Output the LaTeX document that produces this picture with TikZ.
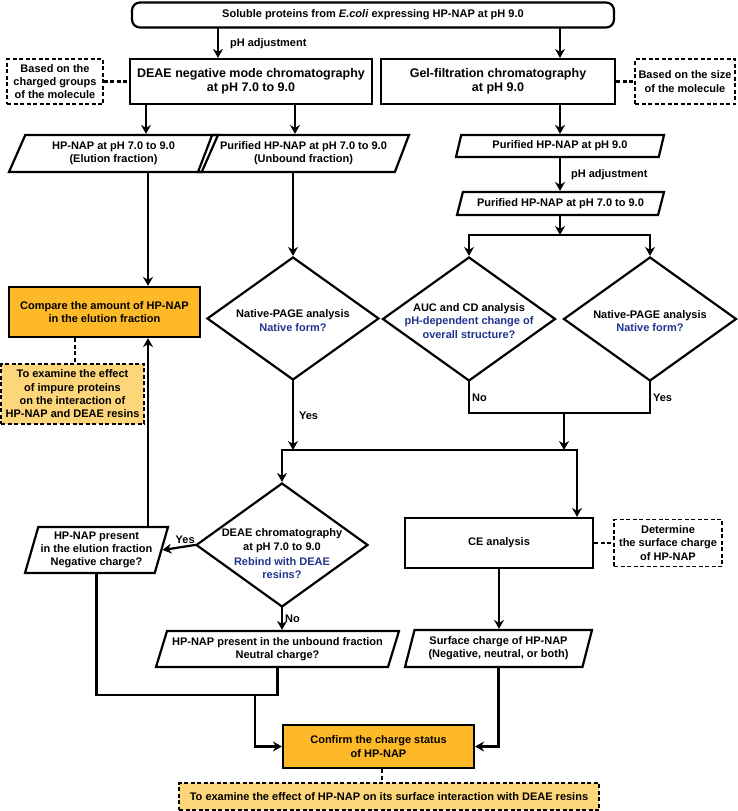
\documentclass[tikz,border=0pt]{standalone}
\usepackage{fontspec}
\setmainfont{Liberation Sans}
\usetikzlibrary{shapes.geometric,arrows.meta}

\definecolor{cmpfill}{RGB}{253,185,39}
\definecolor{notefill}{RGB}{254,214,122}
\definecolor{qblue}{RGB}{32,52,142}

\tikzset{
  base/.style={align=center, inner sep=0pt, font=\fontsize{11}{13.3}\selectfont\bfseries},
  bigfont/.style={font=\fontsize{12.5}{14.5}\selectfont\bfseries},
  procbox/.style={base, draw, line width=2.2pt},
  hlbox/.style={procbox, fill=cmpfill},
  notebox/.style={base, draw, line width=1.1pt, dash pattern=on 4pt off 2.5pt},
  hlnote/.style={notebox, fill=notefill},
  iobox/.style={base, draw, line width=2.2pt, trapezium, trapezium left angle=60,
    trapezium right angle=120, trapezium stretches body=true},
  decision/.style={draw, line width=2.2pt, diamond, inner sep=0pt},
  arr/.style={line width=2.2pt, line cap=rect, -{Stealth[length=9pt,width=10pt,inset=3pt]}},
  link/.style={line width=2.2pt, line cap=rect},
  dlink/.style={line width=2.2pt, dash pattern=on 4pt off 2.5pt},
  lbl/.style={font=\fontsize{11}{13}\selectfont\bfseries, inner sep=2pt}
}

\begin{document}
\begin{tikzpicture}[x=1pt, y=-1pt]
\useasboundingbox (0,0) rectangle (737,811);

% first column of boxes
\node[procbox, rounded corners=8pt, minimum width=482pt, minimum height=25pt] (src) at (373,15)
  {Soluble proteins from \textit{E.coli} expressing HP-NAP at pH 9.0};
\node[procbox, bigfont, minimum width=242pt, minimum height=45pt] (deae) at (251,81.5)
  {DEAE negative mode chromatography\\at pH 7.0 to 9.0};
\node[procbox, bigfont, minimum width=234pt, minimum height=45pt] (gel) at (498,81.5)
  {Gel-filtration chromatography\\at pH 9.0};
\node[notebox, minimum width=96pt, minimum height=45pt] (bycharge) at (55,81.5)
  {Based on the\\charged groups\\of the molecule};
\node[notebox, minimum width=100pt, minimum height=45pt] (bysize) at (685,81.5)
  {Based on the size\\of the molecule};

% fractions
\node[iobox, trapezium left angle=55, trapezium right angle=125, minimum width=209pt, minimum height=37pt]
  (elution) at (113.5,153.5) {HP-NAP at pH 7.0 to 9.0\\(Elution fraction)};
\node[iobox, trapezium left angle=59, trapezium right angle=121, minimum width=211pt, minimum height=37pt]
  (unbound) at (303.5,153.5) {Purified HP-NAP at pH 7.0 to 9.0\\(Unbound fraction)};
\node[iobox, trapezium left angle=63, trapezium right angle=117, minimum width=208pt, minimum height=22pt]
  (pur9) at (560,146) {Purified HP-NAP at pH 9.0};
\node[iobox, trapezium left angle=60, trapezium right angle=120, minimum width=207pt, minimum height=23pt]
  (pur79) at (560.5,203.5) {Purified HP-NAP at pH 7.0 to 9.0};

\node[hlbox, minimum width=191pt, minimum height=50pt] (compare) at (104.5,312)
  {Compare the amount of HP-NAP\\in the elution fraction};
\node[hlnote, minimum width=143pt, minimum height=60pt] (impure) at (72.5,394)
  {To examine the effect\\of impure proteins\\on the interaction of\\HP-NAP and DEAE resins};

% decisions
\node[decision, minimum width=172pt, minimum height=123pt,
  label={[base, yshift=-2pt]center:Native-PAGE analysis\\\textcolor{qblue}{Native form?}}] (page1) at (293,318.5) {};
\node[decision, minimum width=173pt, minimum height=124pt,
  label={[base, yshift=-2pt]center:AUC and CD analysis\\\textcolor{qblue}{pH-dependent change of}\\\textcolor{qblue}{overall structure?}}] (auc) at (469,319) {};
\node[decision, minimum width=173pt, minimum height=124pt,
  label={[base, yshift=-2pt]center:Native-PAGE analysis\\\textcolor{qblue}{Native form?}}] (page2) at (650,319) {};
\node[decision, minimum width=172pt, minimum height=124pt,
  label={[base, yshift=-9pt]center:DEAE chromatography\\at pH 7.0 to 9.0\\[2pt]\textcolor{qblue}{Rebind with DEAE}\\\textcolor{qblue}{resins?}}] (dchrom) at (282,545) {};

% charge results
\node[iobox, trapezium left angle=70, trapezium right angle=110, minimum width=143pt, minimum height=46pt]
  (present) at (96.5,550) {HP-NAP present\\in the elution fraction\\Negative charge?};
\node[iobox, trapezium left angle=65, trapezium right angle=115, minimum width=243pt, minimum height=36pt]
  (neutral) at (277.5,649) {HP-NAP present in the unbound fraction\\Neutral charge?};
\node[procbox, minimum width=188pt, minimum height=50pt] (ce) at (499,543) {CE analysis};
\node[notebox, minimum width=108pt, minimum height=47pt] (detcharge) at (668,543)
  {Determine\\the surface charge\\of HP-NAP};
\node[iobox, trapezium left angle=68, trapezium right angle=112, minimum width=187pt, minimum height=37pt]
  (surface) at (498.5,648.5) {Surface charge of HP-NAP\\(Negative, neutral, or both)};
\node[hlbox, minimum width=191pt, minimum height=43pt] (confirm) at (378.5,746.5)
  {Confirm the charge status\\of HP-NAP};
\node[hlnote, minimum width=420pt, minimum height=27pt] (effect) at (389,796.5)
  {To examine the effect of HP-NAP on its surface interaction with DEAE resins};

% connectors
\draw[arr] (src.south -| 218,0) -- node[lbl, right, xshift=9pt] {pH adjustment} (deae.north -| 218,0);
\draw[arr] (src.south -| 560,0) -- (gel.north -| 560,0);
\draw[dlink] (bycharge.east) -- (deae.west);
\draw[dlink] (gel.east) -- (bysize.west);
\draw[arr] (deae.south -| 146,0) -- (elution.north -| 146,0);
\draw[arr] (deae.south -| 295,0) -- (unbound.north -| 295,0);
\draw[arr] (gel.south -| pur9.north) -- (pur9.north);
\draw[arr] (pur9.south) -- node[lbl, right, xshift=8pt] {pH adjustment} (pur9.south |- pur79.north);

\coordinate (fork) at (560,235);
\draw[arr] (pur79.south -| fork) -- (fork);
\draw[arr] (fork) -| (auc.north);
\draw[arr] (fork) -| (page2.north);

\draw[arr] (elution.south -| 148,0) -- (compare.north -| 148,0);
\draw[dlink] (compare.south -| 75,0) -- (impure.north -| 75,0);
\draw[arr] (present.north -| 148,0) -- (compare.south -| 148,0);
\draw[arr] (unbound.south -| page1.north) -- (page1.north);

\coordinate (mergeL) at (282,450);
\coordinate (mergeR) at (577,450);
\coordinate (join) at (564,413);
\draw[arr] (page1.south) -- node[lbl, right, xshift=3pt] {Yes} (page1.south |- mergeL);
\draw[link] (auc.south) -- node[lbl, right] {No} (auc.south |- join) -| node[lbl, right, pos=0.75] {Yes} (page2.south);
\draw[arr] (join) -- (join |- mergeL);
\draw[arr] (mergeL) -- (dchrom.north);
\draw[arr] (mergeL) -- (mergeR) -- (mergeR |- ce.north);

\draw[arr] (dchrom.west) -- node[lbl, above, pos=0.3] {Yes} (present.east);
\draw[arr] (dchrom.south) -- node[lbl, right] {No} (dchrom.south |- neutral.north);
\coordinate (lowjoin) at (255,695);
\draw[link] (present.south) |- (neutral.south |- lowjoin) -- (neutral.south);
\draw[arr] (lowjoin) |- (confirm.west);
\draw[dlink] (ce.east) -- (detcharge.west);
\draw[arr] (ce.south) -- (ce.south |- surface.north);
\draw[arr] (surface.south) |- (confirm.east);
\draw[dlink] (confirm.south -| 382,0) -- (effect.north -| 382,0);
\end{tikzpicture}
\end{document}
